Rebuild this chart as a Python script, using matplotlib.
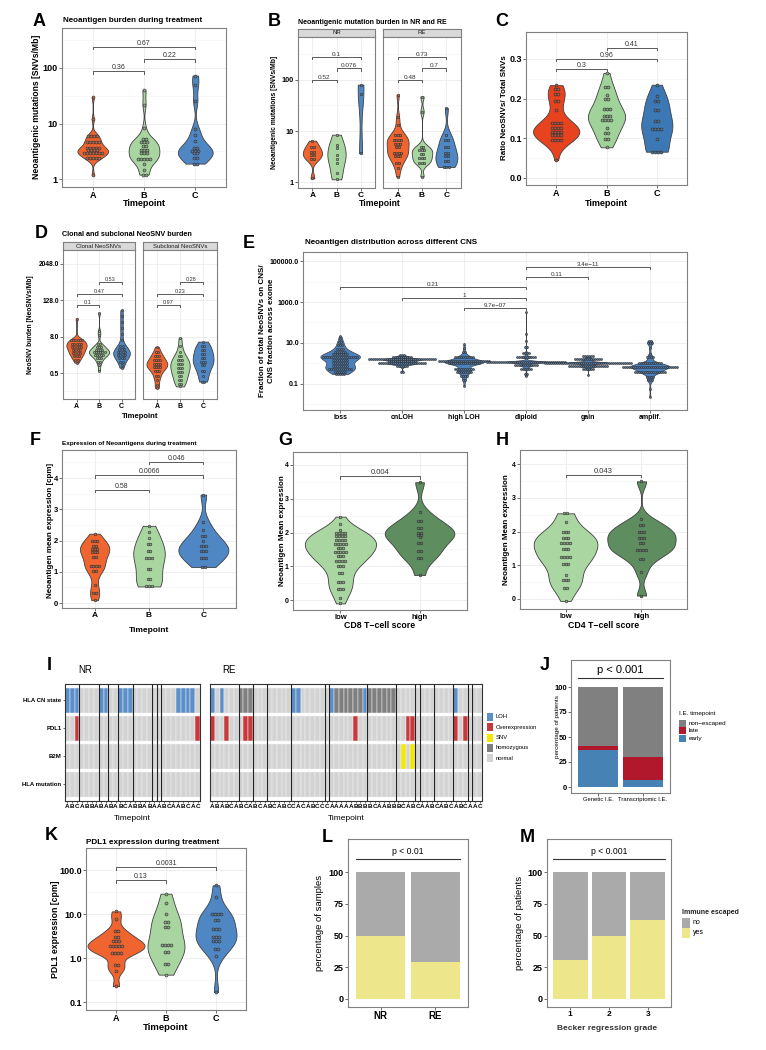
import numpy as np
import matplotlib
matplotlib.use("Agg")
import matplotlib.pyplot as plt
from matplotlib.colors import to_rgb
from matplotlib.patches import Rectangle
from matplotlib.ticker import FixedLocator, NullLocator, NullFormatter

# ------------------------------------------------------------------ data
TIMEPOINTS = ['A', 'B', 'C']

# Panel A  (value rows of the dot plot, number of dots per row)
A_A_val = [30, 12, 6.0, 4.7, 3.7, 3.3, 2.95, 2.4, 1.2]
A_A_cnt = [1, 1, 4, 5, 5, 4, 7, 5, 1]
A_B_val = [40, 22, 8.2, 5.2, 4.6, 4.0, 3.4, 2.9, 2.3, 1.9, 1.45, 1.2]
A_B_cnt = [1, 1, 1, 2, 3, 2, 3, 3, 5, 1, 1, 2]
A_C_val = [73, 49, 25, 7.9, 6.2, 4.9, 3.7, 3.2, 2.9, 2.4, 1.9]
A_C_cnt = [1, 1, 1, 1, 1, 1, 2, 3, 2, 2, 2]
A_pvals = ['0.36', '0.22', '0.67']
A_pheights = [88, 145, 240]

# Panel B
B_NR_A_val = [6.5, 5.0, 4.0, 3.45, 2.85, 1.2]
B_NR_A_cnt = [1, 2, 2, 2, 2, 1]
B_NR_B_val = [8.5, 5.4, 4.7, 3.45, 2.9, 2.4, 1.5, 1.15]
B_NR_B_cnt = [1, 1, 1, 1, 1, 1, 1, 1]
B_NR_C_val = [80, 52, 3.7]
B_NR_C_cnt = [1, 1, 1]
B_RE_A_val = [51, 19, 13, 8.5, 6.8, 5.6, 4.8, 3.8, 3.2, 2.4, 1.9, 1.3]
B_RE_A_cnt = [1, 1, 1, 3, 4, 3, 2, 4, 3, 2, 1, 1]
B_RE_B_val = [47, 24, 5.0, 4.2, 3.6, 3.0, 2.4, 1.3]
B_RE_B_cnt = [1, 1, 2, 3, 2, 3, 3, 1]
B_RE_C_val = [28, 8.5, 6.8, 5.0, 3.7, 3.2, 2.6, 2.0]
B_RE_C_cnt = [1, 1, 2, 2, 2, 2, 2, 3]
B_NR_pvals = ['0.52', '0.076', '0.1']
B_RE_pvals = ['0.48', '0.7', '0.73']
B_pheights = [100, 168, 276]

# Panel C
C_A_val = [0.234, 0.224, 0.212, 0.193, 0.172, 0.139, 0.126, 0.116, 0.107, 0.095, 0.045]
C_A_cnt = [1, 2, 2, 2, 1, 4, 4, 4, 4, 4, 1]
C_B_val = [0.265, 0.229, 0.208, 0.199, 0.174, 0.157, 0.145, 0.126, 0.113, 0.097, 0.077]
C_B_cnt = [1, 2, 1, 2, 3, 3, 4, 1, 2, 2, 1]
C_C_val = [0.235, 0.206, 0.193, 0.172, 0.143, 0.124, 0.097, 0.066]
C_C_cnt = [1, 1, 2, 2, 2, 4, 1, 4]
C_pvals = ['0.3', '0.41', '0.96']
C_pheights = [0.275, 0.328, 0.300]

# Panel D
D_cl_A_val = [32, 6.0, 4.5, 3.7, 2.9, 2.3, 1.8, 1.4, 1.1]
D_cl_A_cnt = [1, 6, 5, 5, 4, 4, 3, 2, 1]
D_cl_B_val = [50, 12, 9, 4.5, 3.7, 3.0, 2.5, 2.0, 1.6, 1.2, 0.9, 0.6]
D_cl_B_cnt = [1, 1, 1, 2, 3, 4, 6, 5, 3, 2, 1, 1]
D_cl_C_val = [61, 40, 25, 16, 10, 6, 4, 3.2, 2.5, 2.0, 1.6, 1.2, 0.9, 0.75]
D_cl_C_cnt = [1, 1, 1, 1, 1, 1, 2, 3, 4, 4, 3, 2, 1, 1]
D_sc_A_val = [3.7, 2.5, 1.8, 1.3, 1.0, 0.8, 0.6, 0.4, 0.3, 0.2, 0.16]
D_sc_A_cnt = [1, 2, 3, 4, 4, 4, 3, 2, 1, 1, 1]
D_sc_B_val = [7.4, 4.0, 2.5, 1.8, 1.3, 1.0, 0.75, 0.55, 0.4, 0.3, 0.22, 0.18]
D_sc_B_cnt = [1, 1, 1, 2, 3, 3, 3, 3, 2, 2, 2, 1]
D_sc_C_val = [5.5, 4.0, 3.0, 2.2, 1.6, 1.2, 0.9, 0.6, 0.4, 0.26]
D_sc_C_cnt = [1, 2, 2, 2, 2, 3, 2, 2, 1, 2]
D_cl_pvals = ['0.1', '0.53', '0.47']
D_sc_pvals = ['0.97', '0.28', '0.23']
D_pheights = [87, 512, 208]

# Panel E
E_categories = ['loss', 'cnLOH', 'high LOH', 'diploid', 'gain', 'amplif.']
E_loss_val = [21, 16, 11, 8, 5.2, 3.6, 2.8, 2.1, 1.55, 1.05, 0.76, 0.56, 0.39, 0.3]
E_loss_cnt = [1, 1, 2, 3, 4, 6, 8, 18, 8, 8, 8, 12, 6, 5]
E_cnloh_val = [2.5, 2.1, 1.6, 1.25, 1.0, 0.75, 0.4]
E_cnloh_cnt = [3, 10, 34, 14, 24, 6, 2]
E_hloh_val = [8.6, 5.5, 3.6, 2.1, 1.3, 1.0, 0.55, 0.38, 0.24, 0.15, 0.08]
E_hloh_cnt = [1, 1, 2, 10, 26, 16, 10, 8, 4, 2, 1]
E_dipl_val = [320, 28, 13, 6.3, 3.3, 2.1, 1.2, 0.8, 0.56, 0.32, 0.24]
E_dipl_cnt = [1, 1, 1, 2, 4, 10, 40, 12, 6, 2, 1]
E_gain_val = [2.2, 1.6, 1.1, 0.76, 0.56, 0.27]
E_gain_cnt = [6, 14, 44, 20, 6, 1]
E_ampl_val = [13, 10, 5.5, 3, 2, 1, 0.68, 0.4, 0.22, 0.15, 0.06, 0.024]
E_ampl_cnt = [2, 3, 1, 1, 4, 12, 28, 16, 4, 3, 1, 1]
E_pairs = [(3, 4), (2, 4), (1, 4), (4, 5), (4, 6)]
E_pvals = ['9.7e\u221207', '1', '0.21', '0.11', '3.4e\u221211']
E_pheights = [500, 1585, 5370, 16600, 50100]

# Panel F
F_A_val = [2.22, 2.0, 1.83, 1.74, 1.62, 1.46, 1.2, 1.01, 0.57, 0.32, 0.09]
F_A_cnt = [1, 3, 2, 3, 3, 2, 4, 2, 1, 2, 1]
F_B_val = [2.47, 2.27, 2.08, 1.9, 1.65, 1.44, 1.1, 0.77, 0.53]
F_B_cnt = [1, 1, 1, 2, 2, 3, 2, 2, 3]
F_C_val = [3.47, 2.6, 2.35, 2.13, 1.97, 1.81, 1.65, 1.44, 1.15]
F_C_cnt = [1, 1, 1, 2, 1, 3, 3, 3, 2]
F_pvals = ['0.58', '0.0066', '0.046']
F_pheights = [3.63, 4.09, 4.53]

# Panels G, H
SCORE_GROUPS = ['low', 'high']
G_low_val = [2.47, 2.25, 2.06, 2.0, 1.9, 1.78, 1.65, 1.55, 1.43, 1.3, 1.16, 1.0, 0.79, 0.54, 0.32, 0.07, -0.1]
G_low_cnt = [1, 1, 1, 4, 4, 4, 5, 3, 5, 3, 4, 3, 2, 3, 3, 1, 1]
G_high_val = [3.49, 2.6, 2.35, 2.14, 2.0, 1.93, 1.86, 1.68, 1.46, 1.23, 0.74]
G_high_cnt = [1, 1, 2, 2, 2, 2, 1, 2, 2, 2, 1]
G_pval, G_pheight = '0.004', 3.67
H_low_val = [2.54, 2.28, 1.98, 1.82, 1.65, 1.47, 1.23, 1.03, 0.71, 0.56, 0.32, -0.06]
H_low_cnt = [2, 1, 3, 3, 4, 3, 4, 3, 1, 3, 2, 1]
H_high_val = [3.49, 2.37, 2.2, 2.0, 1.82, 1.65, 1.46, 1.18, 0.79, 0.1]
H_high_cnt = [1, 1, 2, 3, 3, 2, 4, 2, 1, 1]
H_pval, H_pheight = '0.043', 3.68

# Panel I
I_rows = ['HLA CN state', 'PDL1', 'B2M', 'HLA mutation']
I_states = ['LOH', 'Overexpression', 'SNV', 'homozygous', 'normal']
NR_labels = "ABCABBABABABCABBABAABCAABCAC"
NR_loh = [0, 1, 2, 7, 8, 11, 12, 13, 23, 24, 25, 26]
NR_homo = []
NR_pdl1_over = [2, 27]
NR_b2m_snv = []
NR_bounds = [3, 7, 9, 11, 14, 18, 19, 20]
RE_labels = "ABABCABCABCABCABCCACABCCCAAAAABBBBCAABBBCABCAABCABCABCAAC"
RE_loh = [0, 2, 17, 18, 25, 32, 51]
RE_homo = [6, 7, 8, 26, 27, 28, 29, 30, 31, 33, 34, 35, 36, 37, 38]
RE_pdl1_over = [0, 3, 7, 8, 30, 41, 42, 51, 53]
RE_b2m_snv = [40, 42]
RE_bounds = [6, 9, 12, 17, 24, 25, 33, 39, 43, 44, 47, 51, 54, 55]

# Panel J
J_categories = ['Genetic I.E.', 'Transcriptomic I.E.']
J_early = [37, 7]
J_late = [4, 23]
J_non = [59, 70]

# Panel K
K_A_val = [11.5, 7.8, 4.1, 3.0, 2.4, 1.84, 1.32, 0.68, 0.5, 0.23]
K_A_cnt = [1, 1, 2, 2, 3, 5, 4, 2, 1, 1]
K_B_val = [29, 18, 10, 6.6, 5.1, 2.0, 1.37, 0.72, 0.42]
K_B_cnt = [1, 1, 1, 2, 2, 4, 2, 2, 1]
K_C_val = [45, 25, 9.8, 7.4, 4.6, 3.0, 2.4, 1.6, 1.1, 0.17]
K_C_cnt = [1, 1, 4, 2, 3, 3, 3, 2, 1, 1]
K_pvals = ['0.13', '0.0031']
K_pheights = [58, 117]

# Panels L, M
L_categories = ['NR', 'RE']
L_yes = [50, 29]
L_no = [50, 71]
M_categories = ['1', '2', '3']
M_yes = [31, 50, 62]
M_no = [69, 50, 38]

# ------------------------------------------------------------------ style
ORANGE = '#F0652F'
GREEN = '#A8D5A0'
BLUE = '#4F86C4'
RED_C = '#E8431F'
GREEN_C = '#A0D39A'
BLUE_C = '#3C78B5'
E_BLUE = '#4A80BD'
G_LOW = '#A9D6A1'
G_HIGH = '#5E8D5F'
STATE_COL = {'LOH': '#5B8FC9', 'Overexpression': '#C9393B', 'SNV': '#F5E800',
             'homozygous': '#7F7F7F', 'normal': '#D3D3D3'}
NO_GRAY = '#AAAAAA'
YES_KHAKI = '#EEE68A'

W, H = 766, 1050
plt.rcParams['font.family'] = ['Liberation Sans', 'DejaVu Sans']
fig = plt.figure(figsize=(W / 100, H / 100), dpi=100)
fig.patch.set_facecolor('white')


def add_ax(x0, y0, x1, y1):
    return fig.add_axes([x0 / W, 1 - y1 / H, (x1 - x0) / W, (y1 - y0) / H])


def ftext(x, y, s, size, weight='bold', ha='left', va='center', rot=0, color='black', **kw):
    fig.text(x / W, 1 - y / H, s, fontsize=size, fontweight=weight, ha=ha, va=va,
             rotation=rot, color=color, **kw)


def frect(x, y, w, h, color):
    fig.add_artist(Rectangle((x / W, 1 - (y + h) / H), w / W, h / H, transform=fig.transFigure,
                             facecolor=color, edgecolor='none'))


def mix(c, other, f):
    a = np.array(to_rgb(c))
    b = np.array(to_rgb(other))
    return tuple(a * (1 - f) + b * f)


FWD = {'lin': lambda v: np.asarray(v, float), 'log10': lambda v: np.log10(np.asarray(v, float)),
       'log2': lambda v: np.log2(np.asarray(v, float))}
INV = {'lin': lambda t: t, 'log10': lambda t: 10 ** t, 'log2': lambda t: 2 ** t}


def frame(ax, scale, lim, ticks, labels, fs, ncat=None, catlabels=None, cat_fs=6, grid=True,
          border='#808080'):
    if scale == 'log10':
        ax.set_yscale('log')
    elif scale == 'log2':
        ax.set_yscale('log', base=2)
    ax.set_yticks(ticks)
    ax.set_yticklabels(labels, fontsize=fs, fontweight='bold')
    t = FWD[scale](ticks)
    step = t[1] - t[0]
    mids = np.concatenate([[t[0] - step / 2], (t[:-1] + t[1:]) / 2, [t[-1] + step / 2]])
    ax.yaxis.set_minor_locator(FixedLocator(INV[scale](mids)))
    ax.yaxis.set_minor_formatter(NullFormatter())
    ax.set_ylim(*lim)
    if ncat:
        ax.set_xlim(0.4, ncat + 0.6)
        ax.set_xticks(np.arange(1, ncat + 1))
        ax.set_xticklabels(catlabels, fontsize=cat_fs, fontweight='bold')
    ax.xaxis.set_minor_locator(NullLocator())
    ax.tick_params(which='major', length=2, width=0.5, color='#333333', pad=1)
    ax.tick_params(which='minor', length=0)
    if grid:
        ax.grid(True, which='major', color='#EBEBEB', lw=0.6)
        ax.grid(True, which='minor', axis='y', color='#F4F4F4', lw=0.4)
    ax.set_axisbelow(True)
    for s in ax.spines.values():
        s.set_color(border)
        s.set_linewidth(0.8)


def violin(ax, pos, vals, cnts, color, scale, hw, dot_px, bwadj=1.0, lw=0.6):
    v = np.asarray(vals, float)
    c = np.asarray(cnts, int)
    t = FWD[scale](np.repeat(v, c))
    n = t.size
    sd = t.std(ddof=1)
    q75, q25 = np.percentile(t, [75, 25])
    lo = min(sd, (q75 - q25) / 1.34) if q75 > q25 else sd
    bw = 0.9 * lo * n ** -0.2 * bwadj
    g = np.linspace(t.min(), t.max(), 300)
    d = np.exp(-0.5 * ((g[:, None] - t[None, :]) / bw) ** 2).sum(1)
    d = d / d.max()
    y = INV[scale](g)
    ax.fill_betweenx(y, pos - hw * d, pos + hw * d, facecolor=color, edgecolor='#404040',
                     lw=lw, zorder=2)
    ppu = ax.transData.transform((1, 0))[0] - ax.transData.transform((0, 0))[0]
    dd = dot_px / ppu
    xs = np.concatenate([pos + (np.arange(k) - (k - 1) / 2) * dd for k in c])
    ys = np.repeat(v, c)
    ax.scatter(xs, ys, s=(dot_px * 0.72) ** 2, facecolor=mix(color, '#6a6a6a', 0.45),
               edgecolor='#2e2e2e', lw=0.4, zorder=3)


def bracket(ax, x1, x2, y, txt, fs, tip=2.5):
    tr = ax.transData
    yd = tr.transform((0, y))[1]
    ylo = tr.inverted().transform((0, yd - tip))[1]
    ax.plot([x1, x1, x2, x2], [ylo, y, y, ylo], color='#5a5a5a', lw=0.7, zorder=4, clip_on=False)
    ax.text((x1 + x2) / 2, y, txt, ha='center', va='bottom', fontsize=fs, color='#333333', zorder=4)


def strip(x0, y0, x1, y1, txt, fs):
    a = add_ax(x0, y0, x1, y1)
    a.set_facecolor('#D9D9D9')
    a.set_xticks([])
    a.set_yticks([])
    for s in a.spines.values():
        s.set_color('#7F7F7F')
        s.set_linewidth(0.8)
    a.text(0.5, 0.5, txt, ha='center', va='center', fontsize=fs, transform=a.transAxes,
           color='#1a1a1a')


def letter(x, y, s):
    ftext(x, y, s, 13, weight='bold')


PAIRS3 = [(1, 2), (2, 3), (1, 3)]

# ------------------------------------------------------------------ Panel A
letter(33, 22, 'A')
ftext(63, 21, 'Neoantigen burden during treatment', 5.8)
ax = add_ax(62, 28, 226, 187)
frame(ax, 'log10', (0.72, 525), [1, 10, 100], ['1', '10', '100'], 6.5, 3, TIMEPOINTS, 6.5)
for i, (v, c, col, hw) in enumerate([(A_A_val, A_A_cnt, ORANGE, 0.30), (A_B_val, A_B_cnt, GREEN, 0.30),
                                     (A_C_val, A_C_cnt, BLUE, 0.34)]):
    violin(ax, i + 1, v, c, col, 'log10', hw, 3.0)
for (a, b), p, h in zip(PAIRS3, A_pvals, A_pheights):
    bracket(ax, a, b, h, p, 5)
ftext(37, 107, 'Neoantigenic mutations [SNVs/Mb]', 6.2, ha='center', rot=90)
ftext(144, 203, 'Timepoint', 6.5, ha='center')

# ------------------------------------------------------------------ Panel B
letter(268, 22, 'B')
ftext(298, 23, 'Neoantigenic mutation burden in NR and RE', 5.0)
strip(298, 29, 375, 37, 'NR', 4.3)
strip(383, 29, 461, 37, 'RE', 4.3)
for (x0, x1, grp, pv, hws) in [
        (298, 375, [(B_NR_A_val, B_NR_A_cnt), (B_NR_B_val, B_NR_B_cnt), (B_NR_C_val, B_NR_C_cnt)],
         B_NR_pvals, [0.40, 0.38, 0.12]),
        (383, 461, [(B_RE_A_val, B_RE_A_cnt), (B_RE_B_val, B_RE_B_cnt), (B_RE_C_val, B_RE_C_cnt)],
         B_RE_pvals, [0.45, 0.42, 0.45])]:
    ax = add_ax(x0, 37, x1, 188)
    frame(ax, 'log10', (0.78, 676), [1, 10, 100], ['1', '10', '100'], 5.2, 3, TIMEPOINTS, 6)
    if x0 > 300:
        ax.tick_params(axis='y', left=False, labelleft=False)
    for i, ((v, c), col, hw) in enumerate(zip(grp, [ORANGE, GREEN, BLUE], hws)):
        violin(ax, i + 1, v, c, col, 'log10', hw, 2.5)
    for (a, b), p, h in zip(PAIRS3, pv, B_pheights):
        bracket(ax, a, b, h, p, 4.6)
ftext(275, 112, 'Neoantigenic mutations [SNVs/Mb]', 4.9, ha='center', rot=90)
ftext(380, 203, 'Timepoint', 6.2, ha='center')

# ------------------------------------------------------------------ Panel C
letter(495, 22, 'C')
ax = add_ax(526, 32, 687, 185)
frame(ax, 'lin', (-0.018, 0.368), [0.0, 0.1, 0.2, 0.3], ['0.0', '0.1', '0.2', '0.3'], 6.5, 3,
      TIMEPOINTS, 6.5)
for i, (v, c, col, hw) in enumerate([(C_A_val, C_A_cnt, RED_C, 0.46), (C_B_val, C_B_cnt, GREEN_C, 0.37),
                                     (C_C_val, C_C_cnt, BLUE_C, 0.31)]):
    violin(ax, i + 1, v, c, col, 'lin', hw, 3.0)
for (a, b), p, h in zip(PAIRS3, C_pvals, C_pheights):
    bracket(ax, a, b, h, p, 5)
ftext(505, 108, 'Ratio NeoSNVs/ Total SNVs', 5.8, ha='center', rot=90)
ftext(606, 203, 'Timepoint', 6.5, ha='center')

# ------------------------------------------------------------------ Panel D
letter(35, 234, 'D')
ftext(62, 234, 'Clonal and subclonal NeoSNV burden', 5.2)
strip(63, 242, 135, 250, 'Clonal NeoSNVs', 4.3)
strip(143, 242, 217, 250, 'Subclonal NeoSNVs', 4.3)
for (x0, x1, grp, pv, hws) in [
        (63, 135, [(D_cl_A_val, D_cl_A_cnt), (D_cl_B_val, D_cl_B_cnt), (D_cl_C_val, D_cl_C_cnt)],
         D_cl_pvals, [0.45, 0.45, 0.37]),
        (143, 217, [(D_sc_A_val, D_sc_A_cnt), (D_sc_B_val, D_sc_B_cnt), (D_sc_C_val, D_sc_C_cnt)],
         D_sc_pvals, [0.45, 0.42, 0.45])]:
    ax = add_ax(x0, 250, x1, 399)
    frame(ax, 'log2', (2 ** -3.86, 2 ** 12.54), [0.5, 8, 128, 2048], ['0.5', '8.0', '128.0', '2048.0'],
          4.8, 3, TIMEPOINTS, 5)
    if x0 > 100:
        ax.tick_params(axis='y', left=False, labelleft=False)
    for i, ((v, c), col, hw) in enumerate(zip(grp, [ORANGE, GREEN, BLUE], hws)):
        violin(ax, i + 1, v, c, col, 'log2', hw, 2.2)
    for (a, b), p, h in zip(PAIRS3, pv, D_pheights):
        bracket(ax, a, b, h, p, 4.0, tip=2)
ftext(31, 325, 'NeoSNV burden [NeoSNVs/Mb]', 4.8, ha='center', rot=90)
ftext(140, 416, 'Timepoint', 5.5, ha='center')

# ------------------------------------------------------------------ Panel E
letter(243, 243, 'E')
ftext(305, 242, 'Neoantigen distribution across different CNS', 5.8)
ax = add_ax(303, 252, 687, 410)
frame(ax, 'log10', (10 ** -2.27, 10 ** 5.44), [0.1, 10, 1000, 100000],
      ['0.1', '10.0', '1000.0', '100000.0'], 5, 6, E_categories, 5)
E_groups = [(E_loss_val, E_loss_cnt), (E_cnloh_val, E_cnloh_cnt), (E_hloh_val, E_hloh_cnt),
            (E_dipl_val, E_dipl_cnt), (E_gain_val, E_gain_cnt), (E_ampl_val, E_ampl_cnt)]
for i, (v, c) in enumerate(E_groups):
    violin(ax, i + 1, v, c, E_BLUE, 'log10', 0.32, 2.0, lw=0.5)
for (a, b), p, h in zip(E_pairs, E_pvals, E_pheights):
    bracket(ax, a, b, h, p, 4.5, tip=2)
ftext(267, 331, 'Fraction of total NeoSNVs on CNS/\nCNS fraction across exome', 5.8, ha='center',
      rot=90, multialignment='center', linespacing=1.25)

# ------------------------------------------------------------------ Panel F
letter(30, 440, 'F')
ftext(62, 443, 'Expression of Neoantigens during treatment', 4.6)
ax = add_ax(62, 450, 236, 608)
frame(ax, 'lin', (-0.16, 4.9), [0, 1, 2, 3, 4], ['0', '1', '2', '3', '4'], 5.5, 3, TIMEPOINTS, 6)
for i, (v, c, col, hw) in enumerate([(F_A_val, F_A_cnt, ORANGE, 0.27), (F_B_val, F_B_cnt, GREEN, 0.29),
                                     (F_C_val, F_C_cnt, BLUE, 0.46)]):
    violin(ax, i + 1, v, c, col, 'lin', hw, 2.7)
for (a, b), p, h in zip([(1, 2), (1, 3), (2, 3)], F_pvals, F_pheights):
    bracket(ax, a, b, h, p, 5)
ftext(50, 530, 'Neoantigen mean expression [cpm]', 5.8, ha='center', rot=90)
ftext(149, 630, 'Timepoint', 6, ha='center')

# ------------------------------------------------------------------ Panels G, H
for (lx, box, lows, highs, pv, ph, xlab, ylx) in [
        (278, (293, 452, 467, 610), (G_low_val, G_low_cnt), (G_high_val, G_high_cnt), G_pval, G_pheight,
         'CD8 T\u2212cell score', 282),
        (496, (520, 450, 687, 609), (H_low_val, H_low_cnt), (H_high_val, H_high_cnt), H_pval, H_pheight,
         'CD4 T\u2212cell score', 506)]:
    letter(lx, 440, 'G' if lx < 400 else 'H')
    ax = add_ax(*box)
    ylim = (-0.296, 4.385) if lx < 400 else (-0.3, 4.42)
    frame(ax, 'lin', ylim, [0, 1, 2, 3, 4], ['0', '1', '2', '3', '4'], 5, 2, SCORE_GROUPS, 5.5)
    violin(ax, 1, lows[0], lows[1], G_LOW, 'lin', 0.45 if lx < 400 else 0.42, 2.7)
    violin(ax, 2, highs[0], highs[1], G_HIGH, 'lin', 0.44 if lx < 400 else 0.45, 2.7)
    bracket(ax, 1, 2, ph, pv, 5.5)
    ftext(ylx, (box[1] + box[3]) / 2, 'Neoantigen Mean expression', 5.8, ha='center', rot=90)
    ftext((box[0] + box[2]) / 2, 625, xlab, 6.3, ha='center')

# ------------------------------------------------------------------ Panel I
letter(47, 665, 'I')
ftext(85, 670, 'NR', 7, weight='normal', ha='center')
ftext(229, 670, 'RE', 7, weight='normal', ha='center')


def build_rows(n, loh, homo, over, snv):
    rows = [['normal'] * n for _ in range(4)]
    for i in loh:
        rows[0][i] = 'LOH'
    for i in homo:
        rows[0][i] = 'homozygous'
    for i in over:
        rows[1][i] = 'Overexpression'
    for i in snv:
        rows[2][i] = 'SNV'
    return rows


for (x0, x1, labels, loh, homo, over, snv, bounds, showy) in [
        (65, 200, NR_labels, NR_loh, NR_homo, NR_pdl1_over, NR_b2m_snv, NR_bounds, True),
        (210, 482, RE_labels, RE_loh, RE_homo, RE_pdl1_over, RE_b2m_snv, RE_bounds, False)]:
    n = len(labels)
    rows = build_rows(n, loh, homo, over, snv)
    ax = add_ax(x0, 684, x1, 800.5)
    for r, row in enumerate(rows):
        ax.bar(np.arange(n) + 0.5, 0.88, bottom=r - 0.44, width=1.0,
               color=[STATE_COL[s] for s in row], edgecolor='#F0F0F0', linewidth=0.35, zorder=2)
    ax.set_xlim(0, n)
    ax.set_ylim(3.58, -0.58)
    ax.vlines(bounds, -0.58, 3.58, color='#222222', lw=0.8, zorder=3)
    ax.set_xticks(np.arange(n) + 0.5)
    ax.set_xticklabels(list(labels), fontsize=4.6, fontweight='bold')
    ax.set_yticks(range(4))
    if showy:
        ax.set_yticklabels(I_rows, fontsize=4.3, fontweight='bold')
    else:
        ax.set_yticklabels([])
        ax.tick_params(axis='y', left=False)
    ax.tick_params(length=1.5, width=0.5, color='#333333', pad=1)
    for s in ax.spines.values():
        s.set_color('#333333')
        s.set_linewidth(0.8)
    ftext((x0 + x1) / 2, 818.6, 'Timepoint', 6, weight='normal', ha='center')

for k, st in enumerate(I_states):
    yy = 716.8 + k * 10.4
    frect(487, yy - 4, 6.5, 8, STATE_COL[st])
    ftext(495.5, yy, st, 4.2, weight='normal')

# ------------------------------------------------------------------ Panel J
letter(540, 665, 'J')
ax = add_ax(571, 660, 670, 793)
frame(ax, 'lin', (-6, 127), [0, 25, 50, 75, 100], ['0', '25', '50', '75', '100'], 5.5, 2,
      J_categories, 4.2, grid=False)
for lab in ax.get_xticklabels():
    lab.set_fontweight('normal')
xj = np.arange(1, 3)
ax.bar(xj, J_early, width=0.9, color='#4682B4', zorder=2)
ax.bar(xj, J_late, bottom=J_early, width=0.9, color='#B2182B', zorder=2)
ax.bar(xj, J_non, bottom=np.add(J_early, J_late), width=0.9, color='#808080', zorder=2)
ax.plot([0.55, 2.45], [109, 109], color='#333333', lw=0.8)
ax.annotate('p < 0.001', (1.5, 109), xytext=(0, 2), textcoords='offset points', ha='center',
            va='bottom', fontsize=8)
ftext(557, 727, 'percentage of patients', 4.6, weight='normal', ha='center', rot=90)
ftext(679, 714, 'I.E. timepoint', 4.5, weight='normal')
for k, (lab, col) in enumerate([('non\u2212escaped', '#808080'), ('late', '#B2182B'), ('early', '#4682B4')]):
    yy = 723 + k * 7.6
    frect(679, yy - 3.5, 7, 7, col)
    ftext(689, yy, lab, 4.5, weight='normal')

# ------------------------------------------------------------------ Panel K
letter(45, 835, 'K')
ftext(86, 842, 'PDL1 expression during treatment', 5.9)
ax = add_ax(86, 848, 246, 1010)
frame(ax, 'log10', (10 ** -1.18, 10 ** 2.5), [0.1, 1, 10, 100], ['0.1', '1.0', '10.0', '100.0'], 6.5, 3,
      TIMEPOINTS, 6.5)
for i, (v, c, col, hw) in enumerate([(K_A_val, K_A_cnt, ORANGE, 0.57), (K_B_val, K_B_cnt, GREEN, 0.37),
                                     (K_C_val, K_C_cnt, BLUE, 0.41)]):
    violin(ax, i + 1, v, c, col, 'log10', hw, 3.0)
for (a, b), p, h in zip([(1, 2), (1, 3)], K_pvals, K_pheights):
    bracket(ax, a, b, h, p, 5)
ftext(56, 929, 'PDL1 expression [cpm]', 6.3, ha='center', rot=90)
ftext(166, 1027, 'Timepoint', 6.8, ha='center')

# ------------------------------------------------------------------ Panels L, M
for (lx, box, cats, yes, no, ylab, ptxt, pl) in [
        (322, (348, 839, 468, 1007), L_categories, L_yes, L_no, 'percentage of samples', 'p < 0.01',
         (0.55, 2.45)),
        (520, (547, 839, 671, 1007), M_categories, M_yes, M_no, 'percentage of patients', 'p < 0.001',
         (0.55, 3.45))]:
    letter(lx, 838, 'L' if lx < 400 else 'M')
    ax = add_ax(*box)
    frame(ax, 'lin', (-6.3, 126), [0, 25, 50, 75, 100], ['0', '25', '50', '75', '100'], 6.5, len(cats),
          cats, 7 if lx < 400 else 6, grid=False)
    xx = np.arange(1, len(cats) + 1)
    ax.bar(xx, yes, width=0.9, color=YES_KHAKI, zorder=2)
    ax.bar(xx, no, bottom=yes, width=0.9, color=NO_GRAY, zorder=2)
    ax.plot(pl, [110, 110], color='#333333', lw=0.8)
    ax.annotate(ptxt, ((pl[0] + pl[1]) / 2, 110), xytext=(0, 2.5), textcoords='offset points',
                ha='center', va='bottom', fontsize=6.2)
    ftext(box[0] - 28, (box[1] + box[3]) / 2, ylab, 6.8, weight='normal', ha='center', rot=90)

ftext(607, 1028, 'Becker regression grade', 6, weight='bold', ha='center', color='#333333')
ftext(682, 912, 'Immune escaped', 5, weight='bold', color='#222222')
frect(682, 918, 8, 9.5, NO_GRAY)
ftext(693, 923, 'no', 5, weight='normal')
frect(682, 928, 8, 9.5, YES_KHAKI)
ftext(693, 933, 'yes', 5, weight='normal')

fig.savefig('out.png', dpi=100, facecolor='white')
